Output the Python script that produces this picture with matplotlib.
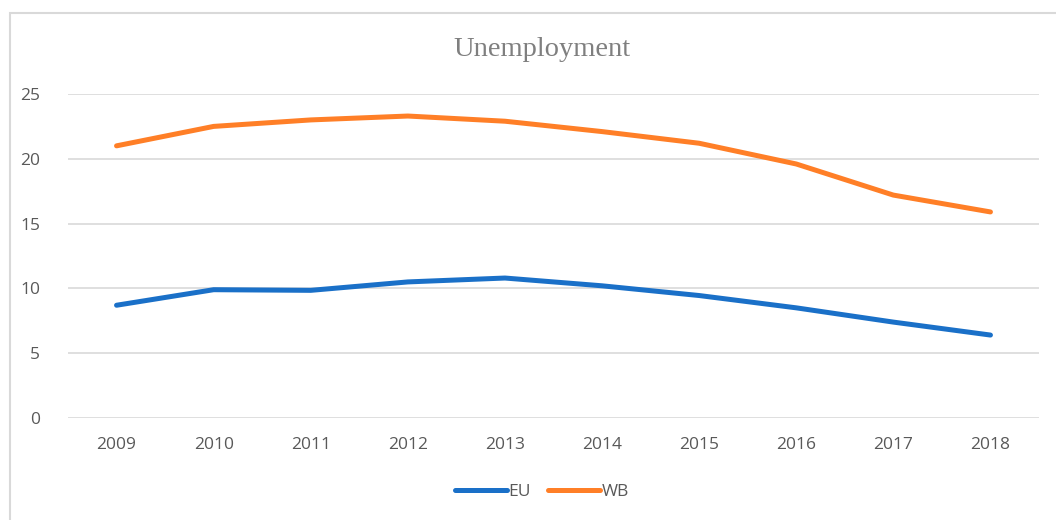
import matplotlib.pyplot as plt
from matplotlib.patches import Rectangle

years = ["2009", "2010", "2011", "2012", "2013", "2014", "2015", "2016", "2017", "2018"]
eu = [8.7, 9.9, 9.85, 10.5, 10.8, 10.2, 9.45, 8.5, 7.4, 6.4]
wb = [21.0, 22.5, 23.0, 23.3, 22.9, 22.1, 21.2, 19.6, 17.2, 15.9]

plt.rcParams["font.family"] = ["Open Sans", "DejaVu Sans"]

fig = plt.figure(figsize=(10.56, 5.2), dpi=100)
ax = fig.add_axes([68 / 1056, 1 - 418 / 520, 971 / 1056, 324 / 520])

# light frame around the chart
fig.patches.append(Rectangle((10 / 1056, -0.1), 1.2, 1 - 13 / 520 + 0.1,
                             transform=fig.transFigure, fill=False,
                             edgecolor="#d9d9d9", linewidth=1.5))

x = range(len(years))
ax.plot(x, eu, color="#1a70c8", linewidth=3.6, solid_capstyle="round", label="EU")
ax.plot(x, wb, color="#ff7f27", linewidth=3.6, solid_capstyle="round", label="WB")

ax.set_xlim(-0.5, len(years) - 0.5)
ax.set_ylim(0, 25)
ax.set_yticks([0, 5, 10, 15, 20, 25])
ax.set_xticks(list(x))
ax.set_xticklabels(years)
ax.grid(axis="y", color="#d9d9d9", linewidth=1.2)
ax.set_axisbelow(True)
for s in ax.spines.values():
    s.set_visible(False)
ax.tick_params(length=0, labelsize=12.5, labelcolor="#595959")
ax.tick_params(axis="y", pad=20)
ax.tick_params(axis="x", pad=14)

fig.text(542 / 1056, 1 - 50 / 520, "Unemployment", family="Liberation Serif",
         fontsize=20.5, color="#7f7f7f", ha="center", va="center")

fig.legend(loc="center", bbox_to_anchor=(542 / 1056, 1 - 492 / 520), ncol=2,
           frameon=False, fontsize=12.5, labelcolor="#595959",
           handlelength=3.0, handletextpad=0.1, columnspacing=1.0)

fig.savefig("out.png")
